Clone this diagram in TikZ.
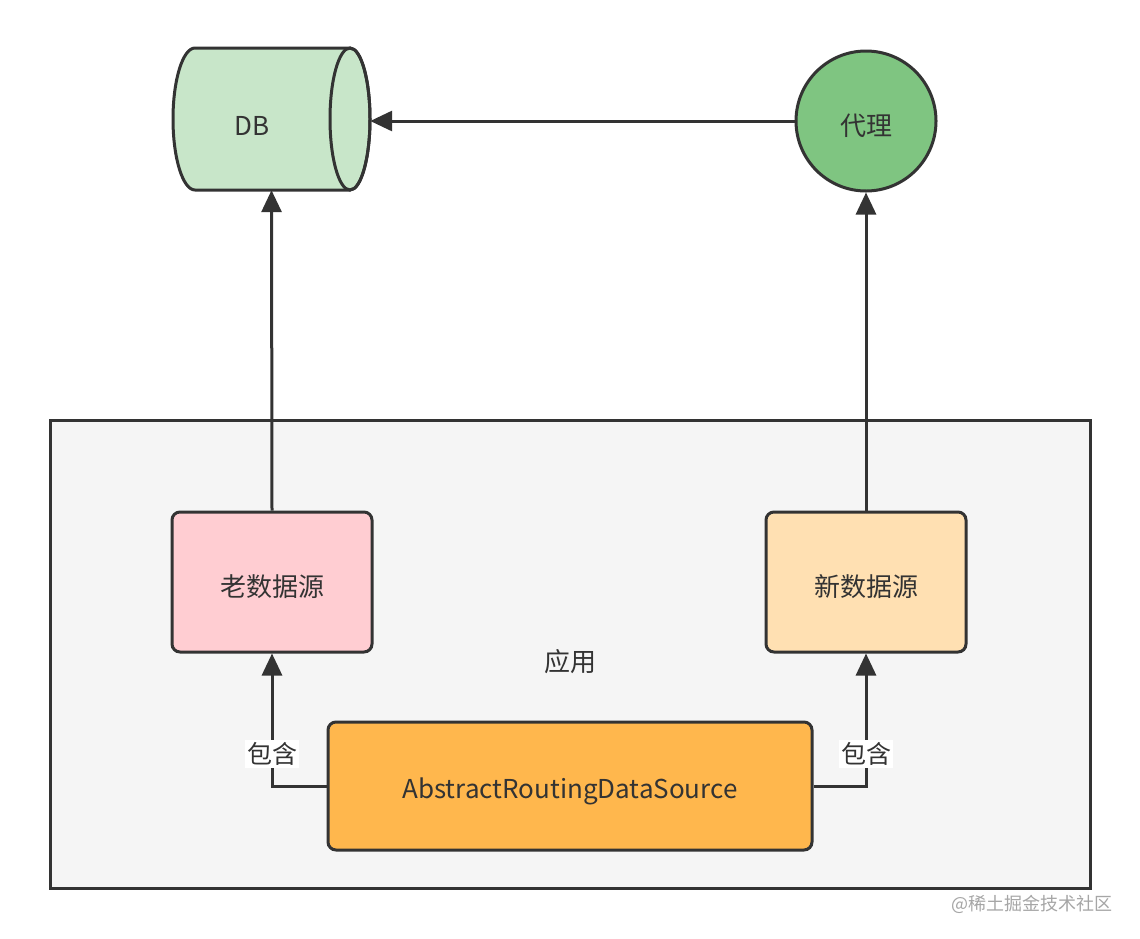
\documentclass[tikz,border=0pt]{standalone}
\usepackage{fontspec}
\setmainfont{Noto Sans CJK SC}
\usetikzlibrary{arrows.meta}
\definecolor{ink}{HTML}{333333}
\definecolor{dbfill}{HTML}{C8E6C9}
\definecolor{proxyfill}{HTML}{7FC581}
\definecolor{oldfill}{HTML}{FFCDD2}
\definecolor{newfill}{HTML}{FFE0B2}
\definecolor{ardsfill}{HTML}{FFB74D}
\definecolor{appfill}{HTML}{F5F5F5}
\tikzset{
  box/.style={draw=ink, line width=3pt, rounded corners=8pt, minimum width=200pt, minimum height=140pt, inner sep=0pt},
  txt/.style={text=ink, font=\fontsize{26}{30}\selectfont, inner sep=0pt},
  conn/.style={draw=ink, line width=3pt, -{Triangle[length=22pt,width=20pt]}},
  lbl/.style={fill=white, text=ink, font=\fontsize{25}{29}\selectfont, inner sep=2pt},
}
\begin{document}
\begin{tikzpicture}[x=1pt,y=-1pt]
\useasboundingbox (0,0) rectangle (1140,938);
\fill[white] (0,0) rectangle (1140,938);
% application container
\node[draw=ink, fill=appfill, line width=3pt, minimum width=1040pt, minimum height=468pt, inner sep=0pt] (app) at (570,654) {};
\node[txt] (applbl) at (570,662) {应用};
% DB cylinder
\draw[draw=ink, fill=dbfill, line width=3pt]
  (350,48) -- (195,48) arc[start angle=270, end angle=90, x radius=22, y radius=71]
  -- (350,190) arc[start angle=90, end angle=-90, x radius=20, y radius=71] -- cycle;
\draw[draw=ink, line width=3pt] (350,119) ellipse[x radius=20, y radius=71];
\node[minimum width=197pt, minimum height=142pt, inner sep=0pt] (db) at (271.5,119) {};
\node[txt] (dblbl) at (252,126) {DB};
% proxy
\node[circle, draw=ink, fill=proxyfill, line width=3pt, minimum size=140pt, inner sep=0pt] (proxy) at (866,121) {};
\node[txt] (proxylbl) at (866,126) {代理};
% data sources
\node[box, fill=oldfill] (old) at (272,582) {};
\node[txt] (oldlbl) at (272,587) {老数据源};
\node[box, fill=newfill] (new) at (866,582) {};
\node[txt] (newlbl) at (866,587) {新数据源};
\node[box, fill=ardsfill, minimum width=484pt, minimum height=128pt] (ards) at (570,786) {};
\node[txt] (ardslbl) at (570,791) {AbstractRoutingDataSource};
% connectors
\draw[conn] (proxy.west) -- (proxy.west -| db.east);
\draw[conn] (old.north) -- (db.south);
\draw[conn] (new.north) -- (proxy.south);
\draw[conn] (ards.west) -| (old.south);
\draw[conn] (ards.east) -| (new.south);
\node[lbl] (l1) at (272,754) {包含};
\node[lbl] (l2) at (866,754) {包含};
% watermark
\node[text=black!35, font=\fontsize{18}{21}\selectfont, anchor=east] (wm) at (1116,904) {@稀土掘金技术社区};
\end{tikzpicture}
\end{document}
